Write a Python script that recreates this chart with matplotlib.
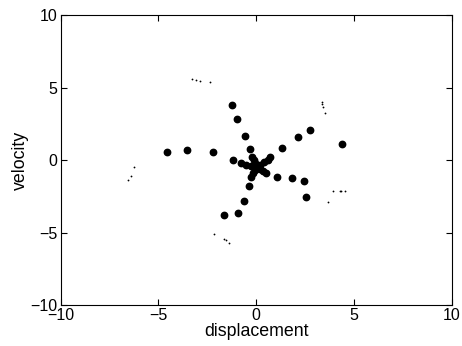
import matplotlib.pyplot as plt

plt.rcParams['font.family'] = ['Liberation Sans', 'DejaVu Sans']

# big markers: displacement / velocity
disp_x = [-1.22, -0.98, -0.59, -0.33, -4.56, -3.54, -2.21, -1.19, -0.77, -0.23,
          0.59, 0.69, 1.30, 2.14, 2.77, 4.41, 0.51, 1.06, 1.82, 2.45, 2.53,
          -0.26, -0.38, -0.61, -0.91, -1.63]
vel_y = [3.79, 2.85, 1.68, 0.76, 0.55, 0.69, 0.53, 0.02, -0.23, 0.23,
         0.00, 0.23, 0.83, 1.59, 2.05, 1.08, -0.92, -1.17, -1.26, -1.43, -2.57,
         -1.15, -1.81, -2.81, -3.66, -3.77]

# star cluster near the origin
star_x = [0.0, -0.25, -0.50, 0.20, 0.40, -0.08, -0.17, 0.17, 0.34, -0.06, -0.12,
          0.05, -0.05]
star_y = [-0.46, -0.38, -0.31, -0.31, -0.15, -0.69, -0.92, -0.61, -0.77, -0.23,
          -0.01, -0.55, -0.40]

# small specks
dust_x = [-3.30, -3.10, -2.89, -2.35, 3.34, 3.36, 3.39, 3.54, 3.92, 4.26, 4.36,
          4.52, 3.66, -2.17, -1.62, -1.52, -1.37, -6.22, -6.39, -6.56]
dust_y = [5.59, 5.52, 5.45, 5.36, 4.00, 3.86, 3.68, 3.22, -2.14, -2.12, -2.14,
          -2.16, -2.88, -5.12, -5.43, -5.52, -5.74, -0.46, -1.08, -1.38]

ticks = [-10, -5, 0, 5, 10]

fig = plt.figure(figsize=(4.62, 3.46), dpi=100)
ax = fig.add_axes([0.131, 0.1185, 0.847, 0.838])

ax.plot(disp_x, vel_y, 'o', color='black', ms=4.6)
ax.plot(star_x, star_y, 'o', color='black', ms=4.6)
ax.plot(dust_x, dust_y, 'o', color='black', ms=1.3, mew=0)

ax.set_xlim(-10, 10)
ax.set_ylim(-10, 10)
ax.set_xticks(ticks)
ax.set_yticks(ticks)
ax.tick_params(direction='in', top=True, right=True, length=4, labelsize=11.5,
               width=0.8, pad=2)
ax.set_xlabel('displacement', fontsize=12.8, labelpad=0)
ax.set_ylabel('velocity', fontsize=12.8, labelpad=1)

plt.savefig('out.png', dpi=100)
